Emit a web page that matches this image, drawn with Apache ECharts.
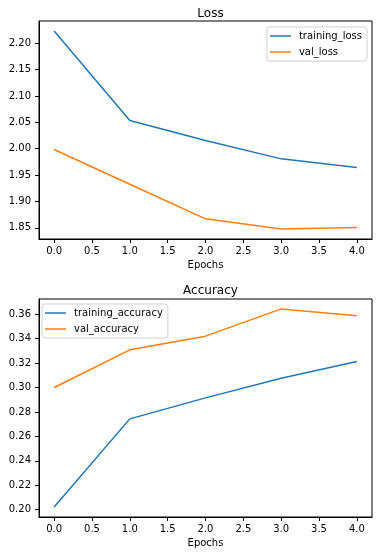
<!DOCTYPE html>
<html>
<head>
<meta charset="utf-8">
<script src="https://cdn.jsdelivr.net/npm/echarts@6/dist/echarts.min.js"></script>
<style>html,body{margin:0;padding:0;background:#fff}#c{width:383px;height:555px}</style>
</head>
<body>
<div id="c"></div>
<script>
const epochs = [0, 1, 2, 3, 4];
const trainingLoss = [2.2234, 2.0536, 2.0156, 1.9807, 1.9643];
const valLoss = [1.9985, 1.9325, 1.8670, 1.8475, 1.8505];
const trainingAccuracy = [0.2021, 0.2743, 0.2915, 0.3076, 0.3213];
const valAccuracy = [0.3000, 0.3308, 0.3420, 0.3643, 0.3587];
const xTicks = [0, 0.5, 1, 1.5, 2, 2.5, 3, 3.5, 4];
const lossTicks = [1.85, 1.90, 1.95, 2.00, 2.05, 2.10, 2.15, 2.20];
const accTicks = [0.20, 0.22, 0.24, 0.26, 0.28, 0.30, 0.32, 0.34, 0.36];

const FONT = 'DejaVu Sans';
const BLUE = '#1f77b4', ORANGE = '#ff7f0e';

function pairs(ys) { return epochs.map((x, i) => [x, ys[i]]); }
function range(arr) {
  const mn = Math.min(...arr), mx = Math.max(...arr), m = (mx - mn) * 0.05;
  return [mn - m, mx + m];
}
const lossRange = range(trainingLoss.concat(valLoss));
const accRange = range(trainingAccuracy.concat(valAccuracy));

const axisLine = { show: true, onZero: false, lineStyle: { color: '#000', width: 1 } };
const tick = (vals) => ({ show: true, inside: false, customValues: vals, length: 4, lineStyle: { color: '#000', width: 1 } });

function xAxis(gi) {
  return {
    type: 'value', gridIndex: gi, min: -0.2, max: 4.2, position: 'bottom',
    name: 'Epochs', nameLocation: 'middle', nameGap: 21,
    nameTextStyle: { fontFamily: FONT, fontSize: 10, color: '#000' },
    axisLine,
    splitLine: { show: false },
    axisTick: tick(xTicks),
    axisLabel: { customValues: xTicks, formatter: v => v.toFixed(1), margin: 7, fontFamily: FONT, fontSize: 10, color: '#000' }
  };
}
function yAxis(gi, r, ticks) {
  return {
    type: 'value', gridIndex: gi, min: r[0], max: r[1], position: 'left',
    axisLine,
    splitLine: { show: false },
    axisTick: tick(ticks),
    axisLabel: { customValues: ticks, formatter: v => v.toFixed(2), margin: 8, fontFamily: FONT, fontSize: 10, color: '#000' }
  };
}
function legend(names, pos) {
  return Object.assign({
    data: names, orient: 'vertical', icon: 'rect', itemWidth: 21, itemHeight: 1.5, itemGap: 4,
    padding: [3, 5, 3, 3], borderColor: '#d0d0d0', borderWidth: 1, borderRadius: 3,
    backgroundColor: 'rgba(255,255,255,0.8)',
    textStyle: { fontFamily: FONT, fontSize: 10, color: '#000', lineHeight: 12, padding: [0, 0, 0, 3] }
  }, pos);
}
function line(name, data, color, gi) {
  return {
    name, type: 'line', xAxisIndex: gi, yAxisIndex: gi, data: pairs(data),
    symbol: 'none', lineStyle: { color, width: 1.5 }, itemStyle: { color }, animation: false
  };
}

const chart = echarts.init(document.getElementById('c'), null, { renderer: 'canvas' });
chart.setOption({
  animation: false,
  title: [
    { text: 'Loss', left: 205.5, top: 3, textAlign: 'center', textStyle: { fontFamily: FONT, fontSize: 12, fontWeight: 'normal', color: '#000' } },
    { text: 'Accuracy', left: 205.5, top: 280, textAlign: 'center', textStyle: { fontFamily: FONT, fontSize: 12, fontWeight: 'normal', color: '#000' } }
  ],
  grid: [
    { left: 39, top: 21, width: 333, height: 218, show: true, borderColor: '#000', borderWidth: 1, backgroundColor: 'transparent' },
    { left: 39, top: 299, width: 333, height: 218, show: true, borderColor: '#000', borderWidth: 1, backgroundColor: 'transparent' }
  ],
  legend: [
    legend(['training_loss', 'val_loss'], { right: 16, top: 27 }),
    legend(['training_accuracy', 'val_accuracy'], { left: 42, top: 304 })
  ],
  xAxis: [xAxis(0), xAxis(1)],
  yAxis: [yAxis(0, lossRange, lossTicks), yAxis(1, accRange, accTicks)],
  series: [
    line('training_loss', trainingLoss, BLUE, 0),
    line('val_loss', valLoss, ORANGE, 0),
    line('training_accuracy', trainingAccuracy, BLUE, 1),
    line('val_accuracy', valAccuracy, ORANGE, 1)
  ]
});
</script>
</body>
</html>
